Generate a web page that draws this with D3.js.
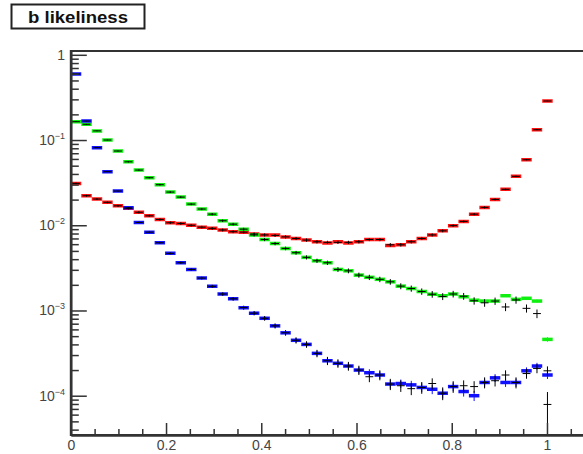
<!DOCTYPE html>
<html>
<head>
<meta charset="utf-8">
<script src="https://cdn.jsdelivr.net/npm/d3@7"></script>
<style>
  body { margin: 0; background: #fff; }
  text { font-family: "Liberation Sans", Arial, Helvetica, sans-serif; }
</style>
</head>
<body>
<svg id="chart" width="583" height="454"></svg>
<script>
// binning: 46 bins of width 0.022 starting at 0
const BIN_LOW = 0;
const BIN_WIDTH = 0.022;

// coloured histograms
const redVals = [0.031, 0.0222, 0.0203, 0.0186, 0.0169, 0.0158, 0.0142, 0.0129, 0.0117, 0.0107,
  0.0105, 0.0100, 0.0095, 0.0092, 0.0088, 0.0084, 0.0083, 0.0079, 0.0077, 0.0077,
  0.0073, 0.0070, 0.0067, 0.0064, 0.0062, 0.0064, 0.0062, 0.0064, 0.0068, 0.0068,
  0.0058, 0.0059, 0.0064, 0.0070, 0.0077, 0.0086, 0.0099, 0.0111, 0.0135, 0.0162,
  0.0201, 0.0264, 0.0375, 0.0587, 0.132, 0.287];
const greenVals = [0.164, 0.153, 0.128, 0.100, 0.0743, 0.0555, 0.0444, 0.0361, 0.0299, 0.0245,
  0.0214, 0.0177, 0.0155, 0.0135, 0.0113, 0.0103, 0.0090, 0.0077, 0.0068, 0.0061,
  0.00535, 0.00476, 0.0042, 0.00383, 0.00363, 0.00303, 0.00292, 0.0026, 0.00245, 0.00232,
  0.00217, 0.00193, 0.00181, 0.00167, 0.00155, 0.00149, 0.00156, 0.00145, 0.00132, 0.00129,
  0.00129, 0.00149, 0.00135, 0.00139, 0.00129, 0.000458];
const blueVals = [0.596, 0.167, 0.0813, 0.0425, 0.0252, 0.016, 0.0108, 0.0083, 0.00623, 0.00468,
  0.00363, 0.00303, 0.0024, 0.00192, 0.00156, 0.00137, 0.00108, 0.00093, 0.00081, 0.00066,
  0.000547, 0.000447, 0.0004, 0.000314, 0.000257, 0.00024, 0.000223, 0.0002, 0.000186, 0.000175,
  0.000137, 0.000139, 0.000134, 0.000125, 0.000119, 0.000107, 0.000128, 0.000112, 0.0001, 0.000143,
  0.000162, 0.000143, 0.000143, 0.000196, 0.000223, 0.000175];

// black reference histograms drawn on top
const redRefVals = [0.031, 0.0222, 0.0203, 0.0186, 0.0169, 0.0158, 0.0142, 0.0129, 0.0117, 0.0107,
  0.0105, 0.0100, 0.0095, 0.0092, 0.0088, 0.0084, 0.0083, 0.0079, 0.0077, 0.0076,
  0.0073, 0.0070, 0.0067, 0.0064, 0.0063, 0.0063, 0.0063, 0.0064, 0.0068, 0.0068,
  0.0059, 0.0059, 0.0064, 0.0070, 0.0077, 0.0086, 0.0099, 0.0111, 0.0135, 0.0162,
  0.0201, 0.0264, 0.0375, 0.0587, 0.132, 0.287];
const greenRefVals = [0.164, 0.153, 0.128, 0.100, 0.0743, 0.0555, 0.0444, 0.0361, 0.0299, 0.0245,
  0.0214, 0.0177, 0.0155, 0.0135, 0.0113, 0.0103, 0.0090, 0.0077, 0.0068, 0.0061,
  0.00535, 0.00476, 0.0042, 0.00383, 0.00363, 0.00303, 0.00292, 0.0026, 0.00245, 0.00232,
  0.00217, 0.00193, 0.00181, 0.00167, 0.00155, 0.00146, 0.00156, 0.00147, 0.0013, 0.00123,
  0.00129, 0.0011, 0.00133, 0.00106, 0.00092, 0.000079];
const blueRefVals = [0.596, 0.167, 0.0813, 0.0425, 0.0252, 0.016, 0.0108, 0.0083, 0.00623, 0.00468,
  0.00363, 0.00303, 0.0024, 0.00192, 0.00156, 0.00137, 0.00108, 0.00093, 0.00081, 0.00066,
  0.000547, 0.000447, 0.0004, 0.000314, 0.000257, 0.00024, 0.000223, 0.0002, 0.000167, 0.000175,
  0.000137, 0.000131, 0.000121, 0.000125, 0.000139, 0.000107, 0.000128, 0.000131, 0.000128, 0.000143,
  0.00015, 0.000175, 0.000143, 0.000182, 0.000209, 0.000196];

// effective statistics for the error bars
const colourStats = 5.5e5;
const refStats = [8e4, 8e4, 3.2e5]; // red, green, blue reference samples

const xMajor = [0, 0.2, 0.4, 0.6, 0.8, 1];
const yMajor = [1, 1e-1, 1e-2, 1e-3, 1e-4];

const svg = d3.select('#chart');
const L = 70.8, T = 51, B = 435, R = 594.6;

const x = d3.scaleLinear().domain([0, 1.1]).range([L, R]);
const y = d3.scaleLog().domain([3.46e-5, 1.108]).range([B, T]);

svg.append('rect').attr('width', 583).attr('height', 454).attr('fill', '#fff');

svg.append('defs').append('clipPath').attr('id', 'frame')
  .append('rect').attr('x', L).attr('y', T).attr('width', R - L).attr('height', B - T);

// frame
svg.append('rect')
  .attr('x', L).attr('y', T).attr('width', R - L).attr('height', B - T)
  .attr('fill', 'none').attr('stroke', '#333').attr('stroke-width', 2);

// ── Histogramme ──────────────────────────────────────────
const marks = svg.append('g').attr('clip-path', 'url(#frame)');

// span: Anteil der Binbreite, der als waagrechter Strich gezeichnet wird
function drawHist(vals, color, width, stats, span) {
  const g = marks.append('g').attr('stroke', color).attr('stroke-width', width);
  vals.forEach((v, i) => {
    const lo = BIN_LOW + i * BIN_WIDTH;
    const c = lo + BIN_WIDTH / 2;
    const half = BIN_WIDTH * span / 2;
    const r = Math.min(0.45, 1 / Math.sqrt(stats * v));
    g.append('line')
      .attr('x1', x(c - half)).attr('x2', x(c + half))
      .attr('y1', y(v)).attr('y2', y(v));
    g.append('line')
      .attr('x1', x(c)).attr('x2', x(c))
      .attr('y1', y(v * (1 - r))).attr('y2', y(v * (1 + r)))
      .attr('stroke-width', 1);
  });
}

drawHist(redVals, '#ff1010', 3.5, colourStats, 1);
drawHist(greenVals, '#10f010', 3.5, colourStats, 1);
drawHist(blueVals, '#1010ff', 3.5, colourStats, 1);
drawHist(redRefVals, '#000', 1, refStats[0], 0.75);
drawHist(greenRefVals, '#000', 1, refStats[1], 0.75);
drawHist(blueRefVals, '#000', 1, refStats[2], 0.75);

// ── Achsen ──────────────────────────────────────────────
const xMinor = d3.range(0.05, 1.1, 0.05).filter(v => !xMajor.some(m => Math.abs(m - v) < 1e-6));
svg.append('g').attr('transform', `translate(0,${B})`)
  .call(d3.axisBottom(x).tickValues(xMinor).tickSize(-6).tickSizeOuter(0).tickFormat(''))
  .call(g => g.select('.domain').remove());
const xAxis = svg.append('g').attr('transform', `translate(0,${B})`)
  .call(d3.axisBottom(x).tickValues(xMajor).tickSize(-12).tickSizeOuter(0).tickPadding(5)
    .tickFormat(d3.format('~g')));
xAxis.select('.domain').attr('stroke-width', 2.5).attr('stroke', '#333');

const yMinor = [];
[1e-5, 1e-4, 1e-3, 1e-2, 1e-1].forEach(d => {
  for (let m = 2; m <= 9; m++) {
    const v = m * d;
    if (v > y.domain()[0] && v < y.domain()[1]) yMinor.push(v);
  }
});
svg.append('g').attr('transform', `translate(${L},0)`)
  .call(d3.axisLeft(y).tickValues(yMinor).tickSize(-8).tickSizeOuter(0).tickFormat(''))
  .call(g => g.select('.domain').remove());
const yAxis = svg.append('g').attr('transform', `translate(${L},0)`)
  .call(d3.axisLeft(y).tickValues(yMajor).tickSize(-16).tickSizeOuter(0).tickFormat(''));
yAxis.select('.domain').attr('stroke-width', 2.5).attr('stroke', '#333');

svg.selectAll('.tick line').attr('stroke', '#333').attr('stroke-width', 1.5);
xAxis.selectAll('text').attr('font-size', 14).attr('fill', '#444')
  .attr('font-family', '"Liberation Sans", Arial, sans-serif');

// y labels: 1, 10^-n
yMajor.forEach(v => {
  const t = svg.append('text')
    .attr('x', 65).attr('y', y(v) + 5)
    .attr('text-anchor', 'end').attr('font-size', 14).attr('fill', '#444');
  const e = Math.round(Math.log10(v));
  if (e === 0) {
    t.text('1');
  } else {
    t.append('tspan').text('10');
    t.append('tspan').attr('font-size', 9).attr('dy', -6).text('\u2212' + (-e));
  }
});

// title box
svg.append('rect')
  .attr('x', 11.5).attr('y', 4.5).attr('width', 133).attr('height', 24)
  .attr('fill', '#fff').attr('stroke', '#222').attr('stroke-width', 2);
svg.append('text')
  .attr('x', 78).attr('y', 22.5).attr('text-anchor', 'middle')
  .attr('font-size', 16).attr('font-weight', 'bold').attr('fill', '#111')
  .attr('textLength', 100).attr('lengthAdjust', 'spacingAndGlyphs')
  .text('b likeliness');
</script>
</body>
</html>
